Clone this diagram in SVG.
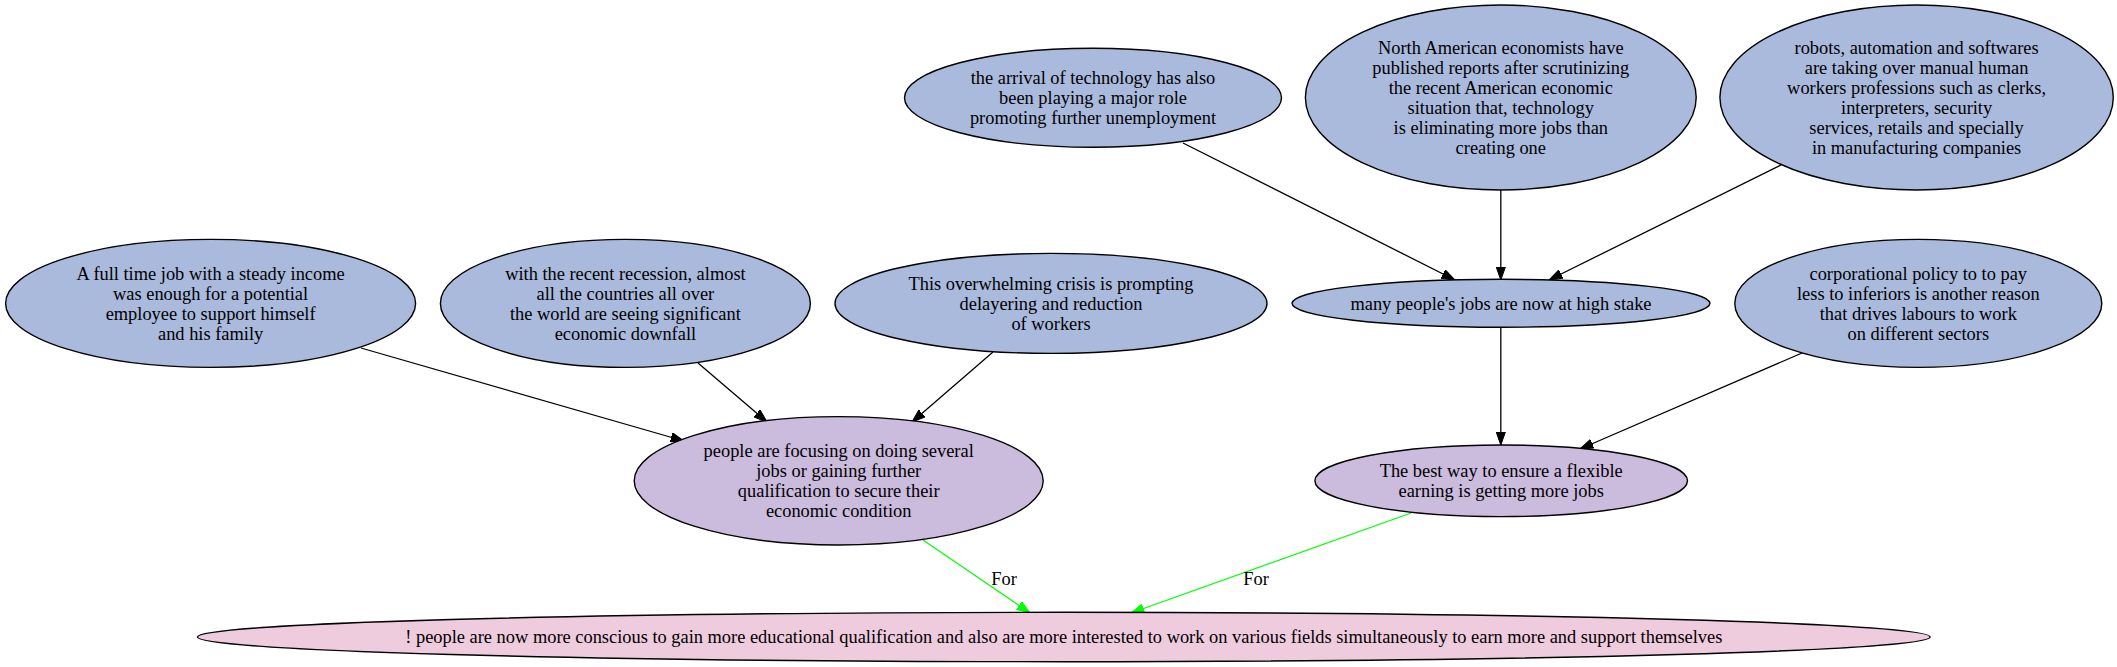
<svg xmlns="http://www.w3.org/2000/svg" width="2117" height="667" viewBox="0 0 2117 667">
<defs>
<style>
text{font-family:"Liberation Serif","Times New Roman",serif;font-size:18.4px;text-anchor:middle;fill:#000}
ellipse{stroke:#000;stroke-width:1.4}
.blue{fill:#aabadd}
.purple{fill:#cbbbdd}
.pink{fill:#eecbdd}
.e{stroke:#000;stroke-width:1.3;fill:none}
.g{stroke:#00ff00;stroke-width:1.3;fill:none}
</style>
<marker id="ab" markerUnits="userSpaceOnUse" markerWidth="14" markerHeight="10" refX="13.3" refY="5" orient="auto" viewBox="0 0 14 10"><path d="M0,0.3 L13.3,5 L0,9.7 Z" fill="#000" stroke="#000"/></marker>
<marker id="ag" markerUnits="userSpaceOnUse" markerWidth="14" markerHeight="10" refX="13.3" refY="5" orient="auto" viewBox="0 0 14 10"><path d="M0,0.3 L13.3,5 L0,9.7 Z" fill="#00ff00" stroke="#00ff00"/></marker>
</defs>
<rect width="2117" height="667" fill="#fff"/>
<g id="connectors">
<line class="e" x1="361" y1="348" x2="684" y2="441" marker-end="url(#ab)"/>
<line class="e" x1="698" y1="363" x2="767" y2="422" marker-end="url(#ab)"/>
<line class="e" x1="993" y1="352" x2="912" y2="422" marker-end="url(#ab)"/>
<line class="e" x1="1183" y1="143" x2="1455" y2="280" marker-end="url(#ab)"/>
<line class="e" x1="1500.8" y1="190" x2="1500.8" y2="280" marker-end="url(#ab)"/>
<line class="e" x1="1781" y1="165" x2="1549" y2="280" marker-end="url(#ab)"/>
<line class="e" x1="1500.8" y1="327" x2="1500.8" y2="445" marker-end="url(#ab)"/>
<line class="e" x1="1802" y1="353" x2="1580" y2="449" marker-end="url(#ab)"/>
<line class="g" x1="923" y1="540" x2="1030" y2="613" marker-end="url(#ag)"/>
<line class="g" x1="1411" y1="513" x2="1131" y2="613" marker-end="url(#ag)"/>
<text x="1004" y="585">For</text>
<text x="1256" y="585">For</text>
</g>
<g id="n_fulltime">
<ellipse class="blue" cx="210.6" cy="303.4" rx="205" ry="64"/>
<text x="210.6" y="280">A full time job with a steady income</text>
<text x="210.6" y="300">was enough for a potential</text>
<text x="210.6" y="320">employee to support himself</text>
<text x="210.6" y="340">and his family</text>
</g>
<g id="n_recession">
<ellipse class="blue" cx="625.4" cy="303.4" rx="185" ry="64"/>
<text x="625.4" y="280">with the recent recession, almost</text>
<text x="625.4" y="300">all the countries all over</text>
<text x="625.4" y="320">the world are seeing significant</text>
<text x="625.4" y="340">economic downfall</text>
</g>
<g id="n_crisis">
<ellipse class="blue" cx="1051" cy="303.4" rx="216" ry="50"/>
<text x="1051" y="290">This overwhelming crisis is prompting</text>
<text x="1051" y="310">delayering and reduction</text>
<text x="1051" y="330">of workers</text>
</g>
<g id="n_arrival">
<ellipse class="blue" cx="1093" cy="97.8" rx="188.5" ry="49.5"/>
<text x="1093" y="84.3">the arrival of technology has also</text>
<text x="1093" y="104.3">been playing a major role</text>
<text x="1093" y="124.3">promoting further unemployment</text>
</g>
<g id="n_north">
<ellipse class="blue" cx="1500.8" cy="97.5" rx="195.4" ry="92.5"/>
<text x="1500.8" y="54.3">North American economists have</text>
<text x="1500.8" y="74.3">published reports after scrutinizing</text>
<text x="1500.8" y="94.3">the recent American economic</text>
<text x="1500.8" y="114.3">situation that, technology</text>
<text x="1500.8" y="134.3">is eliminating more jobs than</text>
<text x="1500.8" y="154.3">creating one</text>
</g>
<g id="n_robots">
<ellipse class="blue" cx="1916.6" cy="97.5" rx="196.7" ry="92.5"/>
<text x="1916.6" y="54.3">robots, automation and softwares</text>
<text x="1916.6" y="74.3">are taking over manual human</text>
<text x="1916.6" y="94.3">workers professions such as clerks,</text>
<text x="1916.6" y="114.3">interpreters, security</text>
<text x="1916.6" y="134.3">services, retails and specially</text>
<text x="1916.6" y="154.3">in manufacturing companies</text>
</g>
<g id="n_many">
<ellipse class="blue" cx="1501" cy="303.3" rx="209" ry="24"/>
<text x="1501" y="309.8">many people's jobs are now at high stake</text>
</g>
<g id="n_corporational">
<ellipse class="blue" cx="1918.3" cy="303.4" rx="183.5" ry="64"/>
<text x="1918.3" y="280">corporational policy to to pay</text>
<text x="1918.3" y="300">less to inferiors is another reason</text>
<text x="1918.3" y="320">that drives labours to work</text>
<text x="1918.3" y="340">on different sectors</text>
</g>
<g id="n_focusing">
<ellipse class="purple" cx="838.7" cy="480.8" rx="204.5" ry="64.2"/>
<text x="838.7" y="457">people are focusing on doing several</text>
<text x="838.7" y="477">jobs or gaining further</text>
<text x="838.7" y="497">qualification to secure their</text>
<text x="838.7" y="517">economic condition</text>
</g>
<g id="n_best">
<ellipse class="purple" cx="1501.2" cy="480.8" rx="186.3" ry="35.8"/>
<text x="1501.2" y="476.8">The best way to ensure a flexible</text>
<text x="1501.2" y="496.8">earning is getting more jobs</text>
</g>
<g id="n_conclusion">
<ellipse class="pink" cx="1063.8" cy="637" rx="866.4" ry="24.7"/>
<text x="1063.8" y="643">! people are now more conscious to gain more educational qualification and also are more interested to work on various fields simultaneously to earn more and support themselves</text>
</g>
</svg>
